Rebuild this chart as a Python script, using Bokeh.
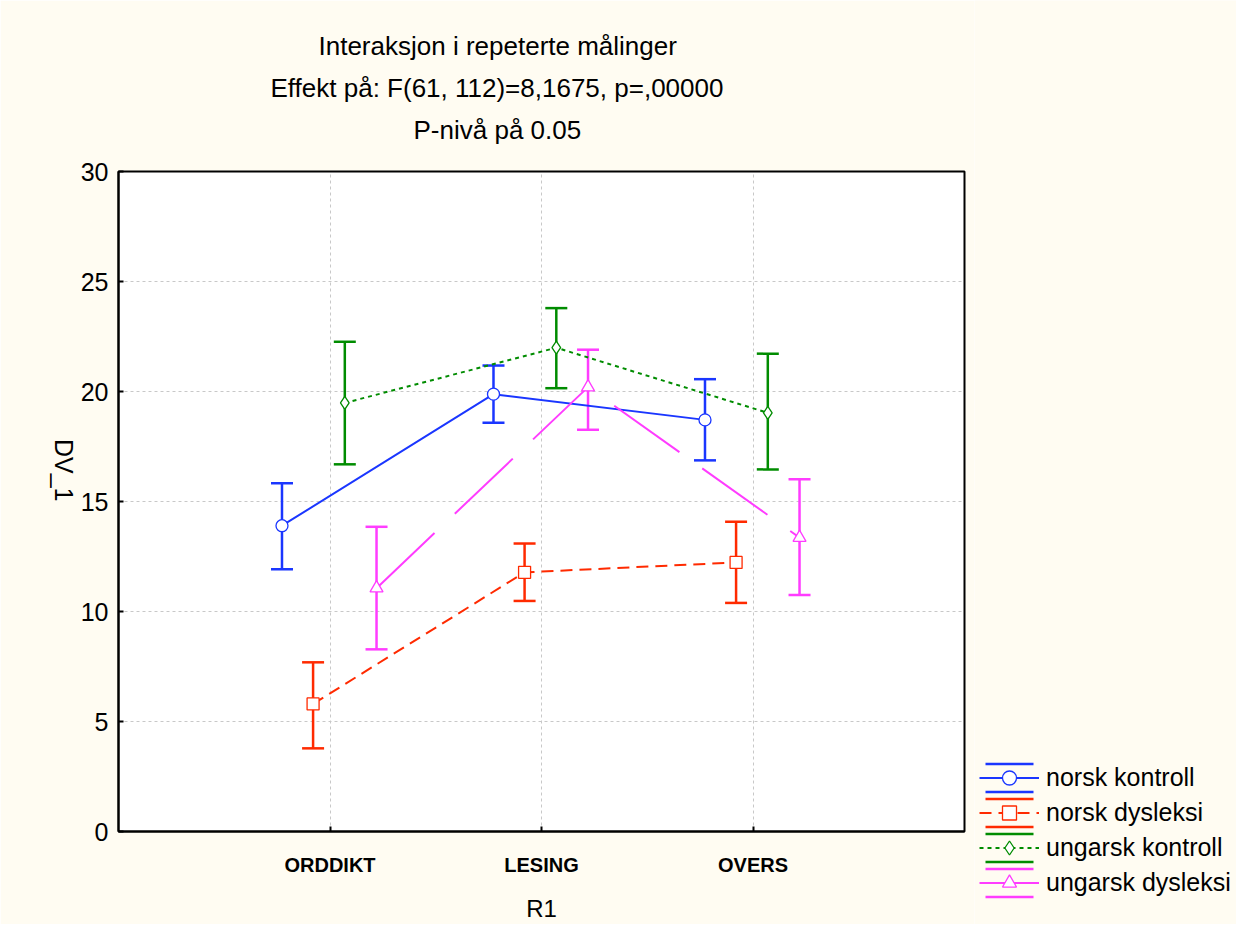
import math
from bokeh.plotting import figure
from bokeh.layouts import row
from bokeh.models import (ColumnDataSource, FactorRange, Range1d, Whisker, TeeHead,
                          Legend, LegendItem, Title, FixedTicker)
from bokeh.transform import dodge
from bokeh.embed import file_html
from bokeh.resources import INLINE

# ---------------- data ----------------
cats = ["ORDDIKT", "LESING", "OVERS"]
series_names = ["norsk kontroll", "norsk dysleksi", "ungarsk kontroll", "ungarsk dysleksi"]

nk_mean = [13.90, 19.88, 18.71]
nk_lo = [11.92, 18.58, 16.87]
nk_hi = [15.83, 21.18, 20.56]

nd_mean = [5.80, 11.78, 12.23]
nd_lo = [3.78, 10.48, 10.39]
nd_hi = [7.69, 13.09, 14.08]

uk_mean = [19.48, 21.99, 19.03]
uk_lo = [16.69, 20.15, 16.46]
uk_hi = [22.26, 23.79, 21.72]

ud_mean = [11.06, 20.20, 13.36]
ud_lo = [8.28, 18.26, 10.75]
ud_hi = [13.85, 21.90, 16.01]

y_ticks = [0, 5, 10, 15, 20, 25, 30]
title_lines = ["Interaksjon i repeterte målinger",
               "Effekt på: F(61, 112)=8,1675, p=,00000",
               "P-nivå på 0.05"]

# ---------------- styles ----------------
FONT = "Liberation Sans"
BG = "#fffcf2"
colors = ["#1a36ff", "#ff2a00", "#008c00", "#ff3cff"]
dashes = ["solid", "12 7", "4 4", "80 28"]
markers = ["circle", "square", "diamond", "triangle"]
msizes = [12, 12, 13, 13]
offsets = [-0.227, -0.08, 0.07, 0.22]
title_offsets = [200, 152, 295]

means = [nk_mean, nd_mean, uk_mean, ud_mean]
los = [nk_lo, nd_lo, uk_lo, ud_lo]
his = [nk_hi, nd_hi, uk_hi, ud_hi]

p = figure(width=974, height=924,
           x_range=FactorRange(factors=cats, range_padding=0.5, range_padding_units="absolute"),
           y_range=Range1d(0, 30),
           output_backend="svg", toolbar_location=None,
           min_border_left=118, min_border_right=10,
           min_border_top=171, min_border_bottom=86)

p.background_fill_color = "white"
p.border_fill_color = BG
p.outline_line_color = "black"
p.outline_line_width = 2

# grids
p.xgrid.grid_line_color = "#c8c8c8"
p.xgrid.grid_line_dash = "3 3"
p.ygrid.grid_line_color = "#c8c8c8"
p.ygrid.grid_line_dash = "3 3"
p.ygrid.ticker = FixedTicker(ticks=y_ticks)

# axes
p.yaxis.ticker = FixedTicker(ticks=y_ticks)
for ax in (p.xaxis[0], p.yaxis[0]):
    ax.axis_line_color = "black"
    ax.axis_line_width = 2
    ax.major_tick_in = 5
    ax.major_tick_out = 0
    ax.minor_tick_line_color = None
    ax.major_tick_line_color = "black"
    ax.major_tick_line_width = 2
    ax.major_label_text_font = FONT
    ax.major_label_text_color = "black"
    ax.axis_label_text_font = FONT
    ax.axis_label_text_font_style = "normal"
    ax.axis_label_text_color = "black"

p.yaxis.major_label_text_font_size = "25px"
p.yaxis.major_label_standoff = 10
p.yaxis.axis_label = "DV_1"
p.yaxis.axis_label_text_font_size = "25px"
p.yaxis.axis_label_standoff = 14
try:
    p.yaxis.axis_label_orientation = -math.pi / 2
except Exception:
    pass
p.xaxis.major_label_text_font_size = "20px"
p.xaxis.major_label_text_font_style = "bold"
p.xaxis.major_label_standoff = 22
p.xaxis.axis_label = "R1"
p.xaxis.axis_label_text_font_size = "24px"
p.xaxis.axis_label_standoff = 16

for i in range(4):
    src = ColumnDataSource(dict(cat=cats, mean=means[i], lo=los[i], hi=his[i]))
    xs = dodge("cat", offsets[i], range=p.x_range)
    w = Whisker(source=src, base=xs, upper="hi", lower="lo",
                line_color=colors[i], line_width=2.5,
                upper_head=TeeHead(size=22, line_color=colors[i], line_width=2.5),
                lower_head=TeeHead(size=22, line_color=colors[i], line_width=2.5))
    p.add_layout(w)
    p.line(x=xs, y="mean", source=src, line_color=colors[i], line_width=2,
           line_dash=dashes[i])
    p.scatter(x=xs, y="mean", source=src, marker=markers[i], size=msizes[i],
              fill_color="white", line_color=colors[i], line_width=1.3)

# title lines: p.title is farthest from the frame; added titles stack outward from the frame
p.title.text = title_lines[0]
p.title.align = "left"
p.title.offset = title_offsets[0]
p.title.text_font = FONT
p.title.text_font_size = "26px"
p.title.text_font_style = "normal"
p.title.text_color = "black"
p.title.standoff = 10
# small spacer nearest the frame
p.add_layout(Title(text=" ", text_font_size="1px", standoff=19), "above")
for k in (2, 1):
    p.add_layout(Title(text=title_lines[k], align="left", offset=title_offsets[k],
                       text_font=FONT, text_font_size="26px", text_font_style="normal",
                       text_color="black", standoff=10), "above")

# ---------------- legend panel ----------------
p2 = figure(width=262, height=924,
            x_range=FactorRange(factors=cats), y_range=Range1d(0, 30),
            output_backend="svg", toolbar_location=None,
            x_axis_location=None, y_axis_location=None,
            min_border=0)
try:
    p2.frame_align = False
    p.frame_align = False
except Exception:
    pass
p2.background_fill_color = BG
p2.border_fill_color = BG
p2.outline_line_color = None
p2.grid.visible = False

items = []
for i in range(4):
    lsrc = ColumnDataSource(dict(cat=cats, mean=means[i]))
    caps = p2.vbar(x="cat", top="mean", width=0.1, source=lsrc, fill_color=None,
                   line_color=colors[i], line_width=2.5, line_dash="48 28")
    lr = p2.line(x="cat", y="mean", source=lsrc, line_color=colors[i], line_width=2,
                 line_dash=dashes[i])
    sr = p2.scatter(x="cat", y="mean", source=lsrc, marker=markers[i], size=msizes[i],
                    fill_color="white", line_color=colors[i], line_width=1.3)
    rs = [caps, lr, sr]
    for r in rs:
        r.visible = False
    items.append(LegendItem(label=series_names[i], renderers=rs))

legend = Legend(items=items, location=(5, 24),
                background_fill_alpha=0, border_line_color=None,
                inactive_fill_alpha=0,
                padding=0, margin=0, spacing=0,
                glyph_width=60, glyph_height=35, label_height=35,
                label_standoff=7,
                label_text_font=FONT, label_text_font_size="25px",
                label_text_color="black")
p2.add_layout(legend, "center")

open("out.html", "w").write(file_html(row(p, p2), INLINE))
